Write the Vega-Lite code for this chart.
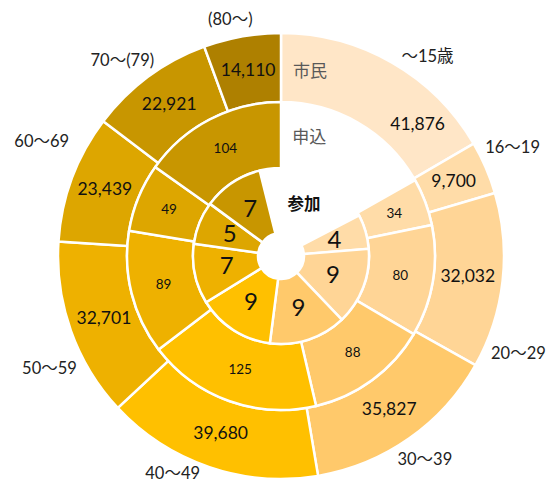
{
  "$schema": "https://vega.github.io/schema/vega-lite/v6.json",
  "width": 548,
  "height": 456,
  "autosize": "none",
  "padding": {"left": 7, "top": 28, "right": 0, "bottom": 0},
  "background": "white",
  "config": {"view": {"stroke": null}},
  "datasets": {
    "outer": [
      {"n": 1, "age": "～15歳", "value": 41876},
      {"n": 2, "age": "16～19", "value": 9700},
      {"n": 3, "age": "20～29", "value": 32032},
      {"n": 4, "age": "30～39", "value": 35827},
      {"n": 5, "age": "40～49", "value": 39680},
      {"n": 6, "age": "50～59", "value": 32701},
      {"n": 7, "age": "60～69", "value": 23439},
      {"n": 8, "age": "70～(79)", "value": 22921},
      {"n": 9, "age": "(80～)", "value": 14110}
    ],
    "middle": [
      {"n": 2, "age": "16～19", "value": 34},
      {"n": 3, "age": "20～29", "value": 80},
      {"n": 4, "age": "30～39", "value": 88},
      {"n": 5, "age": "40～49", "value": 125},
      {"n": 6, "age": "50～59", "value": 89},
      {"n": 7, "age": "60～69", "value": 49},
      {"n": 8, "age": "70～(79)", "value": 104}
    ],
    "inner": [
      {"n": 2, "age": "16～19", "value": 4},
      {"n": 3, "age": "20～29", "value": 9},
      {"n": 4, "age": "30～39", "value": 9},
      {"n": 5, "age": "40～49", "value": 9},
      {"n": 6, "age": "50～59", "value": 7},
      {"n": 7, "age": "60～69", "value": 5},
      {"n": 8, "age": "70～(79)", "value": 7}
    ]
  },
  "layer": [
    {
      "data": {"name": "outer"},
      "encoding": {
        "theta": {"field": "value", "type": "quantitative", "stack": true},
        "order": {"field": "n", "type": "quantitative"}
      },
      "layer": [
        {
          "mark": {"type": "arc", "radius": 223, "radius2": 154, "stroke": "white", "strokeWidth": 2.5},
          "encoding": {
            "color": {
              "field": "age", "type": "nominal", "legend": null,
              "scale": {
                "domain": ["～15歳", "16～19", "20～29", "30～39", "40～49", "50～59", "60～69", "70～(79)", "(80～)"],
                "range": ["#FFE6C7", "#FFDCA8", "#FFD596", "#FFC96B", "#FFC000", "#EEB100", "#DDA600", "#C89600", "#AE8000"]
              }
            }
          }
        },
        {
          "mark": {"type": "text", "radius": 188, "fontSize": 17.5, "font": "Lato", "color": "#111111"},
          "encoding": {
            "detail": {"field": "age"},
            "text": {"condition": {"test": "datum.age !== '～15歳'", "field": "value", "type": "quantitative", "format": ","}, "value": ""}
          }
        },
        {
          "mark": {"type": "text", "radius": 188, "dx": 43, "dy": 32, "fontSize": 17.5, "font": "Lato", "color": "#111111"},
          "encoding": {
            "detail": {"field": "age"},
            "text": {"condition": {"test": "datum.age === '～15歳'", "field": "value", "type": "quantitative", "format": ","}, "value": ""}
          }
        },
        {
          "mark": {"type": "text", "radius": 250, "dx": 22, "dy": 18, "fontSize": 16.5, "font": "Lato, Noto Sans CJK JP", "color": "#222222"},
          "encoding": {"detail": {"field": "age"}, "text": {"condition": {"test": "datum.age === '～15歳'", "field": "age"}, "value": ""}}
        },
        {
          "mark": {"type": "text", "radius": 250, "dx": 2, "dy": -9, "fontSize": 16.5, "font": "Lato, Noto Sans CJK JP", "color": "#222222"},
          "encoding": {"detail": {"field": "age"}, "text": {"condition": {"test": "datum.age === '16～19'", "field": "age"}, "value": ""}}
        },
        {
          "mark": {"type": "text", "radius": 250, "dx": -11, "dy": 70, "fontSize": 16.5, "font": "Lato, Noto Sans CJK JP", "color": "#222222"},
          "encoding": {"detail": {"field": "age"}, "text": {"condition": {"test": "datum.age === '20～29'", "field": "age"}, "value": ""}}
        },
        {
          "mark": {"type": "text", "radius": 250, "dx": 0, "dy": 0, "fontSize": 16.5, "font": "Lato, Noto Sans CJK JP", "color": "#222222"},
          "encoding": {"detail": {"field": "age"}, "text": {"condition": {"test": "datum.age === '30～39'", "field": "age"}, "value": ""}}
        },
        {
          "mark": {"type": "text", "radius": 250, "dx": -28, "dy": -19, "fontSize": 16.5, "font": "Lato, Noto Sans CJK JP", "color": "#222222"},
          "encoding": {"detail": {"field": "age"}, "text": {"condition": {"test": "datum.age === '40～49'", "field": "age"}, "value": ""}}
        },
        {
          "mark": {"type": "text", "radius": 250, "dx": 4, "dy": 29, "fontSize": 16.5, "font": "Lato, Noto Sans CJK JP", "color": "#222222"},
          "encoding": {"detail": {"field": "age"}, "text": {"condition": {"test": "datum.age === '50～59'", "field": "age"}, "value": ""}}
        },
        {
          "mark": {"type": "text", "radius": 250, "dx": -5, "dy": -27, "fontSize": 16.5, "font": "Lato, Noto Sans CJK JP", "color": "#222222"},
          "encoding": {"detail": {"field": "age"}, "text": {"condition": {"test": "datum.age === '60～69'", "field": "age"}, "value": ""}}
        },
        {
          "mark": {"type": "text", "radius": 250, "dx": -10, "dy": 6, "fontSize": 16.5, "font": "Lato, Noto Sans CJK JP", "color": "#222222"},
          "encoding": {"detail": {"field": "age"}, "text": {"condition": {"test": "datum.age === '70～(79)'", "field": "age"}, "value": ""}}
        },
        {
          "mark": {"type": "text", "radius": 250, "dx": -7, "dy": 10, "fontSize": 16.5, "font": "Lato, Noto Sans CJK JP", "color": "#222222"},
          "encoding": {"detail": {"field": "age"}, "text": {"condition": {"test": "datum.age === '(80～)'", "field": "age"}, "value": ""}}
        }
      ]
    },
    {
      "data": {"name": "middle"},
      "encoding": {
        "theta": {"field": "value", "type": "quantitative", "stack": true, "scale": {"range": [1.056, 6.2832]}},
        "order": {"field": "n", "type": "quantitative"}
      },
      "layer": [
        {
          "mark": {"type": "arc", "radius": 154, "radius2": 88, "stroke": "white", "strokeWidth": 2.5},
          "encoding": {"color": {"field": "age", "type": "nominal", "legend": null}}
        },
        {
          "mark": {"type": "text", "radius": 121, "fontSize": 13.5, "font": "Lato", "color": "#111111"},
          "encoding": {"detail": {"field": "age"}, "text": {"field": "value", "type": "quantitative"}}
        }
      ]
    },
    {
      "data": {"name": "inner"},
      "encoding": {
        "theta": {"field": "value", "type": "quantitative", "stack": true, "scale": {"range": [1.0926, 6.0388]}},
        "order": {"field": "n", "type": "quantitative"}
      },
      "layer": [
        {
          "mark": {"type": "arc", "radius": 88, "radius2": 23, "stroke": "white", "strokeWidth": 2.5},
          "encoding": {"color": {"field": "age", "type": "nominal", "legend": null}}
        },
        {
          "mark": {"type": "text", "radius": 55.5, "fontSize": 24, "font": "Lato", "color": "#111111"},
          "encoding": {"detail": {"field": "age"}, "text": {"field": "value", "type": "quantitative"}}
        }
      ]
    },
    {
      "data": {"values": [{"s": "市民"}]},
      "mark": {"type": "text", "theta": 0.1564, "radius": 186, "fontSize": 17, "font": "Noto Sans CJK JP", "color": "#595959"},
      "encoding": {"text": {"field": "s"}}
    },
    {
      "data": {"values": [{"s": "申込"}]},
      "mark": {"type": "text", "theta": 0.2356, "radius": 121, "fontSize": 17, "font": "Noto Sans CJK JP", "color": "#595959"},
      "encoding": {"text": {"field": "s"}}
    },
    {
      "data": {"values": [{"s": "参加"}]},
      "mark": {"type": "text", "theta": 0.4241, "radius": 56, "fontSize": 16.5, "fontWeight": "bold", "font": "Noto Sans CJK JP", "color": "#111111"},
      "encoding": {"text": {"field": "s"}}
    }
  ],
  "resolve": {"scale": {"theta": "independent"}}
}
